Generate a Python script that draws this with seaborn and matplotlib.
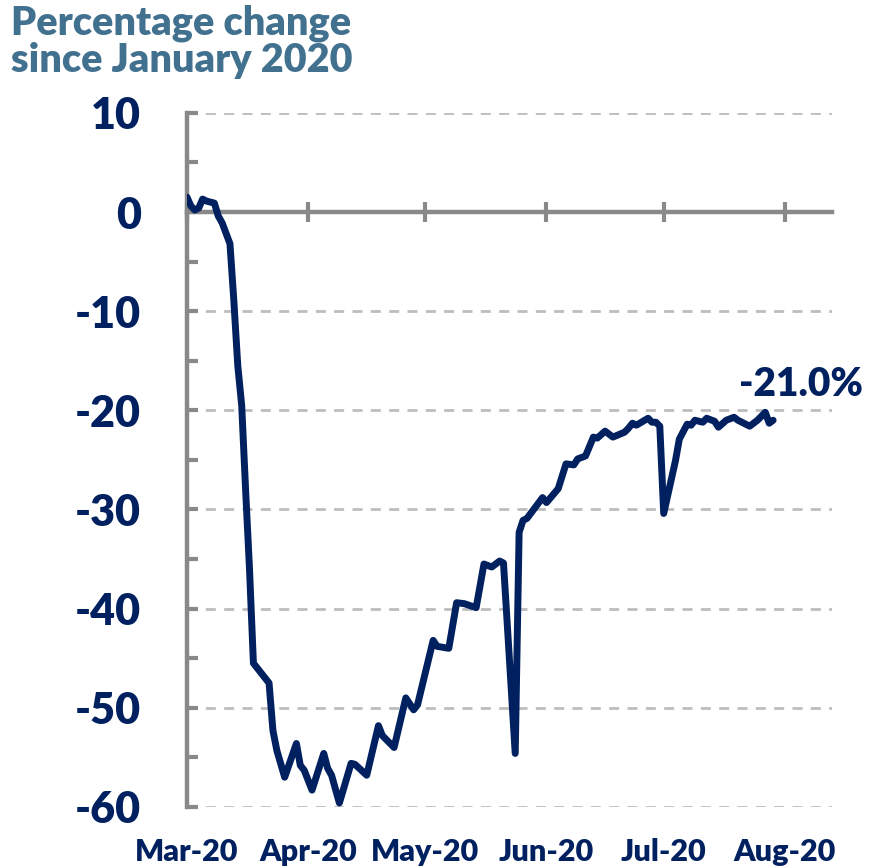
import numpy as np
import pandas as pd
import matplotlib
matplotlib.use("Agg")
import matplotlib.pyplot as plt
import matplotlib.dates as mdates
import matplotlib.ticker as mticker
import seaborn as sns

# ---- data -------------------------------------------------------------
start_date = "2020-03-01"
day_offsets = [0, 1, 2, 3, 4, 5, 7, 8, 9, 11, 12, 13, 14, 15, 16, 17, 21, 22, 23,
               25, 28, 29, 30, 32, 35, 36, 37, 39, 42, 43, 46, 49, 50, 53, 56, 58,
               59, 63, 64, 67, 69, 71, 74, 76, 78, 80, 81, 84, 85, 86, 87, 91, 92,
               95, 97, 99, 100, 102, 104, 105, 107, 109, 112, 113, 114, 115, 118,
               119, 120, 121, 122, 125, 126, 128, 129, 130, 132, 133, 135, 136,
               138, 140, 141, 144, 146, 148, 149, 150]
values = [1.5, 0.6, 0.2, 0.4, 1.3, 1.1, 0.9, -0.4, -1.1, -3.2, -9.0, -15.5, -19.5,
          -28.0, -36.0, -45.5, -47.5, -52.3, -54.3, -57.0, -53.6, -55.8, -56.3,
          -58.3, -54.6, -56.1, -56.8, -59.6, -55.6, -55.7, -56.8, -51.8, -52.8,
          -54.0, -49.0, -50.2, -49.7, -43.2, -43.8, -44.0, -39.4, -39.5, -39.9,
          -35.5, -35.8, -35.2, -35.4, -54.6, -32.3, -31.1, -30.9, -28.8, -29.3,
          -27.9, -25.4, -25.5, -24.9, -24.6, -22.7, -22.8, -22.1, -22.7, -22.2,
          -21.8, -21.3, -21.5, -20.8, -21.2, -21.2, -21.6, -30.4, -25.1, -22.9,
          -21.4, -21.5, -21.0, -21.2, -20.8, -21.1, -21.7, -21.0, -20.7, -21.0,
          -21.6, -21.0, -20.2, -21.3, -21.0]
month_starts = ["2020-03-01", "2020-04-01", "2020-05-01", "2020-06-01",
                "2020-07-01", "2020-08-01"]
month_labels = ["Mar-20", "Apr-20", "May-20", "Jun-20", "Jul-20", "Aug-20"]
y_major = [10, 0, -10, -20, -30, -40, -50, -60]
last_label = "-21.0%"
title_text = "Percentage change\nsince January 2020"

# ---- style ------------------------------------------------------------
NAVY = "#002060"
GRAY = "#898989"
GRID = "#BDBDBD"
TITLE = "#41718F"

sns.set_theme(style="white")
plt.rcParams["font.family"] = ["Lato", "DejaVu Sans"]

dates = pd.Timestamp(start_date) + pd.to_timedelta(day_offsets, unit="D")
df = pd.DataFrame({"date": dates, "value": values})

fig = plt.figure(figsize=(8.82, 8.68), dpi=100)
ax = fig.add_axes([0.212, 0.0703, 0.731, 0.7997])

sns.lineplot(data=df, x="date", y="value", ax=ax, color=NAVY, linewidth=5.0,
             solid_joinstyle="round", solid_capstyle="round", zorder=4)

ax.set_ylim(-60, 10)
x0 = pd.Timestamp(start_date)
ax.set_xlim(x0, x0 + pd.Timedelta(days=165))

# y axis
ax.yaxis.set_major_locator(mticker.FixedLocator(y_major))
ax.yaxis.set_minor_locator(mticker.MultipleLocator(5))
ax.set_yticklabels([str(v) for v in y_major])
ax.tick_params(axis="y", which="both", direction="in", length=8, width=3,
               color=GRAY, left=True, right=False)
ax.tick_params(axis="y", which="major", labelsize=31, labelcolor=NAVY, pad=33)
for lab in ax.get_yticklabels():
    lab.set_fontweight("heavy")

# grid
ax.set_axisbelow(True)
ax.yaxis.grid(True, which="major", color=GRID, linewidth=2.0,
              linestyle=(0, (3.6, 3.0)))
ax.xaxis.grid(False)

# spines
for s in ["top", "right"]:
    ax.spines[s].set_visible(False)
ax.spines["left"].set_color(GRAY)
ax.spines["left"].set_linewidth(3.2)
ax.spines["bottom"].set_position(("data", 0))
ax.spines["bottom"].set_color(GRAY)
ax.spines["bottom"].set_linewidth(3.2)

# x ticks on the zero line
mticks = mdates.date2num(pd.to_datetime(month_starts))
ax.set_xticks(mticks)
ax.tick_params(axis="x", which="major", direction="inout", length=14, width=3,
               color=GRAY, labelbottom=False, bottom=True)
ax.set_xlabel("")
ax.set_ylabel("")

# month labels at the bottom
sec = ax.secondary_xaxis("bottom")
sec.set_xticks(mticks, labels=month_labels)
sec.spines["bottom"].set_visible(False)
sec.tick_params(axis="x", length=0, pad=22, labelsize=22, labelcolor=NAVY)
for lab in sec.get_xticklabels():
    lab.set_fontweight("heavy")

# last value label
ax.annotate(last_label, xy=(df["date"].iloc[-1], df["value"].iloc[-1]),
            xytext=(20, 26), textcoords="offset points", ha="center",
            va="center", fontsize=28, fontweight="heavy", color=NAVY)

# title
fig.text(0.012, 0.995, title_text, ha="left", va="top", fontsize=28.5,
         fontweight="heavy", color=TITLE, linespacing=1.0)

fig.savefig("out.png", dpi=100)
